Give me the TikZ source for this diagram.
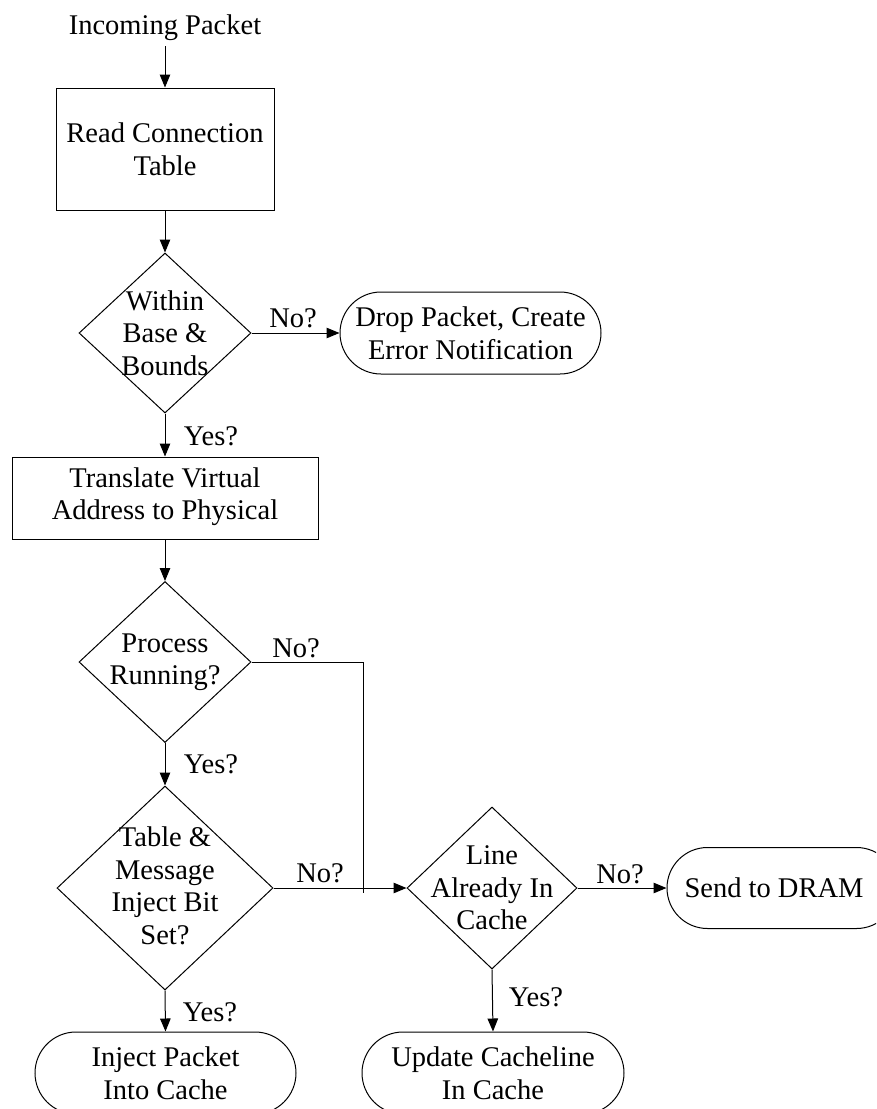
\documentclass[tikz,border=0pt]{standalone}
\usepackage{fontspec}
\setmainfont{Liberation Serif}
\usetikzlibrary{shapes.geometric,shapes.misc,arrows.meta}
\begin{document}
\begin{tikzpicture}[x=1pt,y=-1pt,
  every node/.style={font=\fontsize{28.5}{32.5}\selectfont, text=black},
  proc/.style={draw, rectangle, line width=1pt, inner sep=0},
  dia/.style={draw, diamond, line width=1pt, inner sep=0},
  term/.style={draw, rounded rectangle, line width=1pt, inner sep=0},
  txt/.style={align=center, inner sep=0},
  lbl/.style={inner sep=0},
  arr/.style={line width=1pt, -{Triangle[length=13pt,width=10.5pt]}},
  ln/.style={line width=0.8pt}]
\useasboundingbox (0,0) rectangle (876,1109);
\clip (0,0) rectangle (876,1109);

% nodes
\node[inner sep=0pt] (inc) at (165,28) {Incoming Packet};
\node[proc, minimum width=218pt, minimum height=122pt] (rct) at (165,149) {};
\node[txt] at (rct) {Read Connection\\Table};

\node[dia, minimum width=172pt, minimum height=160pt] (d1) at (165,333) {};
\node[txt] at (d1) {Within\\Base \&\\Bounds};

\node[term, minimum width=261pt, minimum height=82pt] (drop) at (470.5,333) {};
\node[txt] at (drop) {Drop Packet, Create\\Error Notification};

\node[proc, minimum width=306pt, minimum height=82pt] (tr) at (165,498) {};
\node[txt] at ([yshift=1.5pt]tr.center) {Translate Virtual\\Address to Physical};

\node[dia, minimum width=172pt, minimum height=161pt] (d2) at (165,662) {};
\node[txt] at (d2) {Process\\Running?};

\node[dia, minimum width=216pt, minimum height=204pt] (d3) at (165,888) {};
\node[txt] at ([yshift=2pt]d3.center) {Table \&\\Message\\Inject Bit\\Set?};

\node[dia, minimum width=170pt, minimum height=162pt] (d4) at (492,888) {};
\node[txt] at (d4) {Line\\Already In\\Cache};

\node[term, minimum width=230pt, minimum height=81pt] (dram) at (782,888) {};
\node[txt] at (774,888) {Send to DRAM};

\node[term, minimum width=261pt, minimum height=82pt] (inj) at (165.5,1073) {};
\node[txt] at (inj) {Inject Packet\\Into Cache};

\node[term, minimum width=262pt, minimum height=82pt] (upd) at (493,1073) {};
\node[txt] at (upd) {Update Cacheline\\In Cache};

\coordinate (j) at (363,888);
\coordinate (incb) at (165,46);

% connectors
\draw[arr] (incb) -- (rct.north);
\draw[arr] (rct.south) -- (d1.north);
\draw[arr] (d1.east) -- (drop.west);
\draw[arr] (d1.south) -- (tr.north);
\draw[arr] (tr.south) -- (d2.north);
\draw[ln] (d2.east) -| (j);
\draw[ln] (j) -- ++(0,5);
\draw[arr] (d2.south) -- (d3.north);
\draw[arr] (d3.east) -- (d4.west);
\draw[arr] (d4.east) -- (dram.west);
\draw[arr] (d3.south) -- (inj.north);
\draw[arr] (d4.south) -- (upd.north);

% labels
\node[lbl] at (293,318) {No?};
\node[lbl] at (211,436) {Yes?};
\node[lbl] at (296,648) {No?};
\node[lbl] at (211,764) {Yes?};
\node[lbl] at (320,873) {No?};
\node[lbl] at (620,874) {No?};
\node[lbl] at (210,1012) {Yes?};
\node[lbl] at (536,997) {Yes?};
\end{tikzpicture}
\end{document}
